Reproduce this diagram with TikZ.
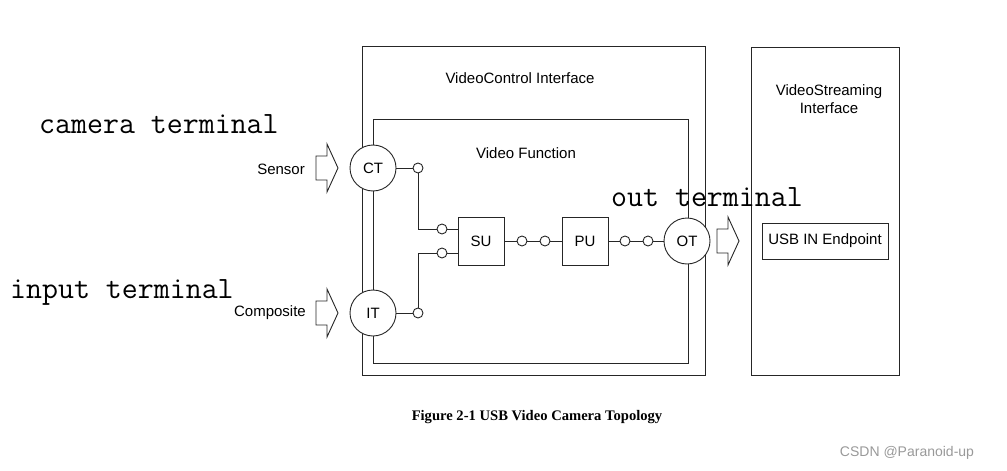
\documentclass[tikz,border=0pt]{standalone}
\usepackage{fontspec}
\setmainfont{Liberation Sans}
\newfontfamily\capfont{Liberation Serif}
\usetikzlibrary{calc}
\tikzset{
  ln/.style={draw=black!85, line width=0.9pt},
  lbl/.style={font=\fontsize{15}{18}\selectfont, inner sep=0pt},
  term/.style={circle, ln, fill=white, minimum size=46pt, inner sep=0pt, font=\fontsize{15}{18}\selectfont},
  dot/.style={circle, ln, fill=white, minimum size=10pt, inner sep=0pt},
  unit/.style={rectangle, ln, fill=white, minimum width=46pt, minimum height=48pt, inner sep=0pt, font=\fontsize{15}{18}\selectfont},
  big/.style={font=\fontsize{31}{34}\selectfont\ttfamily, inner sep=0pt, anchor=base west},
  bigarrow/.pic={\draw[ln, fill=white] (-11,-12) -- (0,-12) -- (0,-24) -- (11,0) -- (0,24) -- (0,12) -- (-11,12) -- cycle;}
}
\begin{document}
\begin{tikzpicture}[x=1pt,y=-1pt]
\useasboundingbox (0,0) rectangle (1007,471);
% boxes
\draw[ln] (362,46) rectangle (705,375);
\draw[ln] (373,119) rectangle (688,363);
\draw[ln] (751,47) rectangle (899,375);
\node[lbl] (vci) at (520,78) {VideoControl Interface};
\node[lbl] (vf) at (526,153) {Video Function};
\node[lbl, align=center, font=\fontsize{15}{18.5}\selectfont] (vsi) at (829,99) {VideoStreaming\\Interface};
\node[rectangle, ln, minimum width=126pt, minimum height=36pt, inner sep=0pt, font=\fontsize{15}{18}\selectfont] (ep) at (825,241) {USB IN Endpoint};
% terminals
\node[term] (ct) at (373,168) {CT};
\node[term] (it) at (373,313) {IT};
\node[term] (ot) at (687,241) {OT};
\node[unit] (su) at (481,241) {SU};
\node[unit] (pu) at (585,241) {PU};
% dots
\node[dot] (d1) at (418,168) {};
\node[dot] (d2) at (442,229) {};
\node[dot] (d3) at (418,313) {};
\node[dot] (d4) at (442,253) {};
\node[dot] (d5) at (522,241) {};
\node[dot] (d6) at (545,241) {};
\node[dot] (d7) at (625,241) {};
\node[dot] (d8) at (648,241) {};
% connectors
\draw[ln] (ct) -- (d1);
\draw[ln] (d1.south) |- (d2.west);
\draw[ln] (d2) -- (su.west |- d2);
\draw[ln] (it) -- (d3);
\draw[ln] (d3.north) |- (d4.west);
\draw[ln] (d4) -- (su.west |- d4);
\draw[ln] (su) -- (d5);
\draw[ln] (d5) -- (d6);
\draw[ln] (d6) -- (pu);
\draw[ln] (pu) -- (d7);
\draw[ln] (d7) -- (d8);
\draw[ln] (d8) -- (ot);
% big arrows
\pic at (327,168) {bigarrow};
\pic at (327,313) {bigarrow};
\pic at (728,241) {bigarrow};
\node[lbl, anchor=east] (sensor) at (305,169) {Sensor};
\node[lbl, anchor=east] (comp) at (306,313) {Composite};
% annotations
\node[big] (camt) at (39,133) {camera terminal};
\node[big] (inpt) at (10,298) {input terminal};
\node[big] (outt) at (611,206) {out terminal};
% caption
\node[inner sep=0pt, font=\capfont\bfseries\fontsize{14.6}{16}\selectfont] (cap) at (537,417) {Figure 2-1 USB Video Camera Topology};
\node[inner sep=0pt, text=black!40, font=\fontsize{14}{16}\selectfont] (wm) at (907,453) {CSDN @Paranoid-up};
\end{tikzpicture}
\end{document}
